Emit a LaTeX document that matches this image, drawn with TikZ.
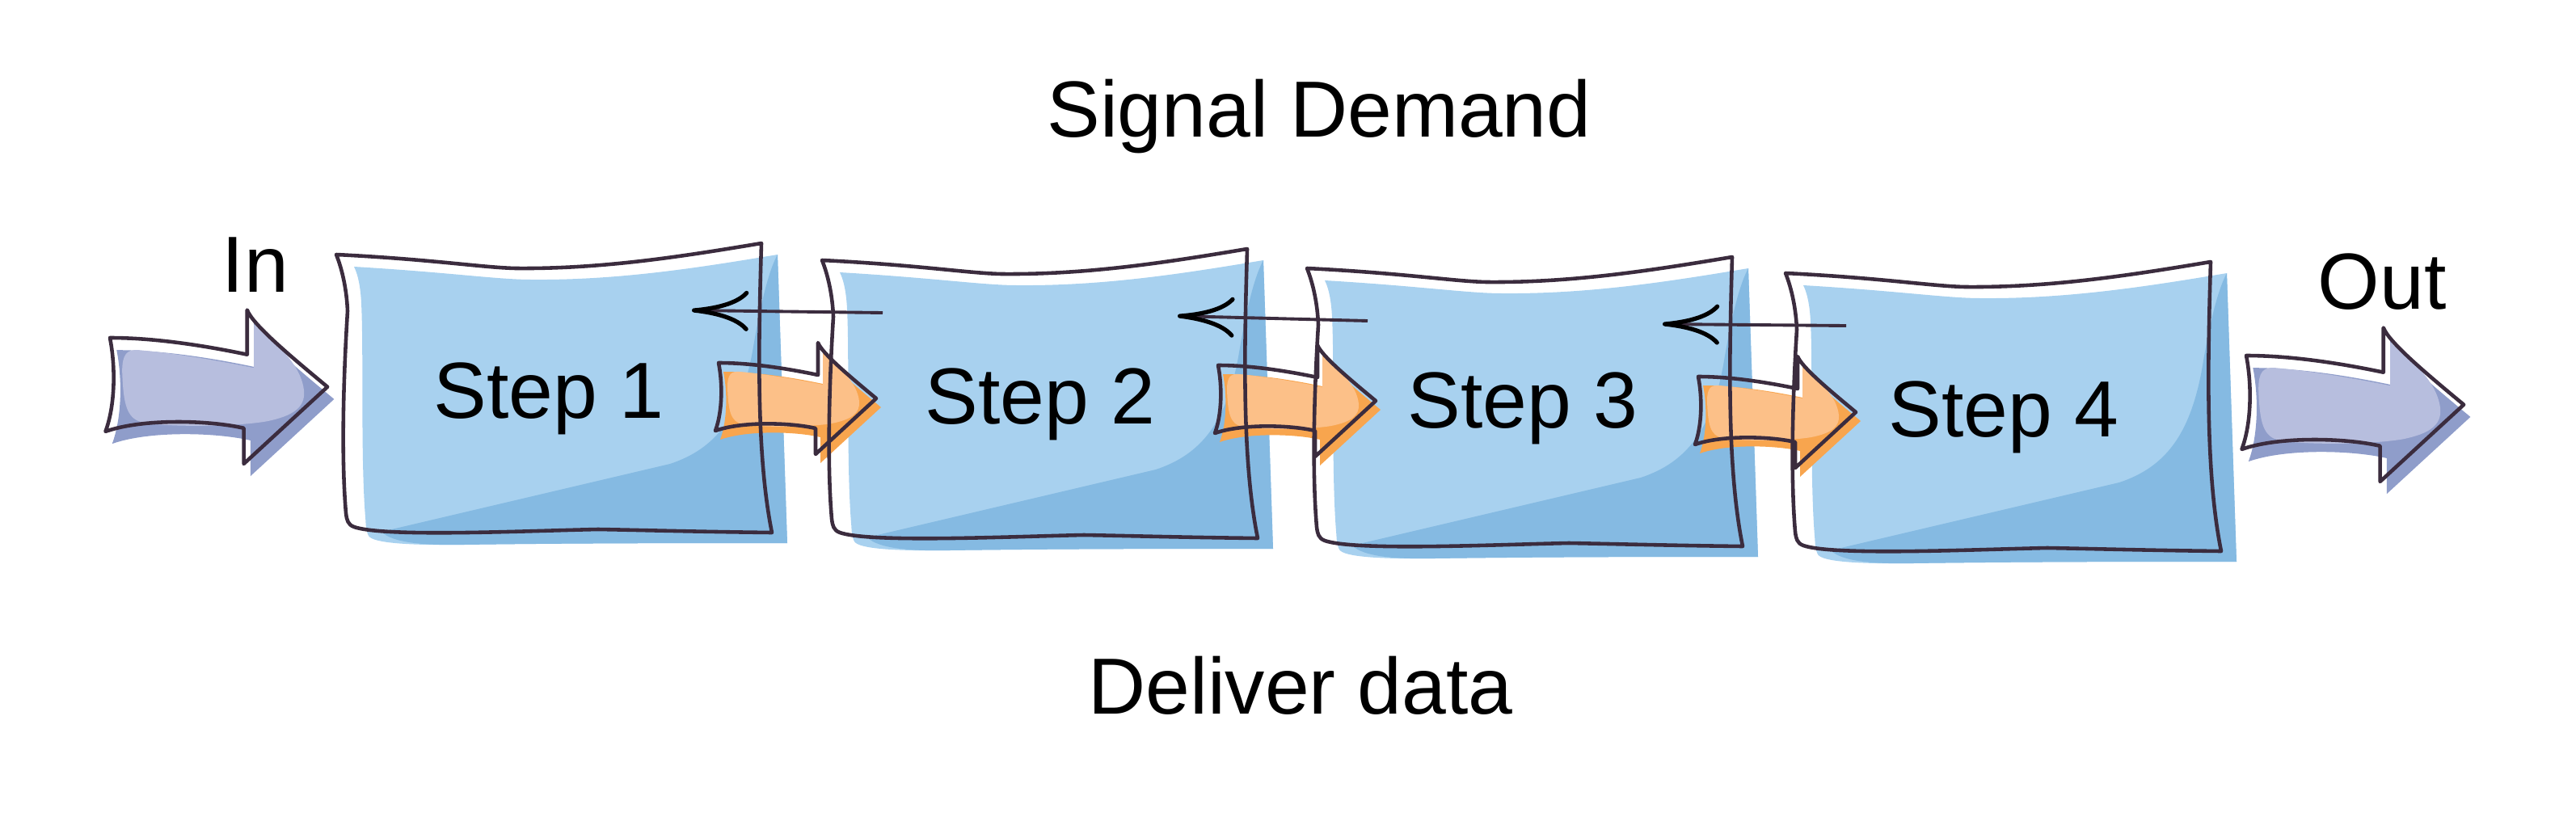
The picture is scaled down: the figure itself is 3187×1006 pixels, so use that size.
\documentclass[tikz,border=0pt]{standalone}
\usepackage{fontspec}
\setmainfont{Liberation Sans}
\usetikzlibrary{arrows.meta}

\definecolor{bluelight}{HTML}{A8D1EF}
\definecolor{bluedark}{HTML}{85BAE2}
\definecolor{orangelight}{HTML}{FCC088}
\definecolor{orangedark}{HTML}{F8A54E}
\definecolor{purplelight}{HTML}{B7BEDE}
\definecolor{purpledark}{HTML}{8F9DCA}
\definecolor{edgecol}{HTML}{3B2C3E}

\begin{document}
\begin{tikzpicture}[
        x = 0.01cm, y = -0.01cm,
        line join=round,
        boxedge/.style = {line width=1.3pt, edgecol},
        sigline/.style = {line width=1.1pt, edgecol, -{Computer Modern Rightarrow[length=7mm, width=5mm, line width=1.5pt, color=black]}},
        txt/.style = {anchor=base, inner sep=0pt, font=\fontsize{28}{34}\selectfont},
        boxfill/.pic = {
            \fill[bluelight] (22,15) .. controls (140,22) and (200,31) .. (241,31) .. controls (350,32) and (450,16) .. (546,0) -- (558,357) .. controls (450,357) and (300,357) .. (158,359) .. controls (90,360) and (45,357) .. (40,348) .. controls (36,340) and (37,335) .. (36,325) .. controls (30,250) and (34,120) .. (31,60) .. controls (30,40) and (27,25) .. (22,15) -- cycle;
            \fill[bluedark] (546,0) -- (558,357) .. controls (450,357) and (300,357) .. (158,359) .. controls (110,360) and (70,357) .. (56,343) -- (413,259) .. controls (470,240) and (500,200) .. (515,120) .. controls (525,60) and (535,20) .. (546,0) -- cycle;
        },
        boxline/.pic = {
            \draw[boxedge] (0,0) .. controls (120,6) and (180,16) .. (222,17) .. controls (330,18) and (430,2) .. (526,-14) .. controls (522,120) and (520,250) .. (539,344) .. controls (450,343) and (380,341) .. (324,340) .. controls (230,342) and (60,350) .. (22,337) .. controls (14,334) and (13,328) .. (12,320) .. controls (6,250) and (9,150) .. (14,70) .. controls (13,45) and (8,20) .. (0,0) -- cycle;
            \coordinate (-w) at (75,65);
            \coordinate (-e) at (440,69);
        },
        flowarrow/.pic = {
            \fill[#1dark, shift={(6,11)}] (0,0) .. controls (40,0) and (85,7) .. (123,15) -- (123,-25) .. controls (128,-12) and (160,15) .. (195,44) -- (120,113) -- (120,81) .. controls (90,74) and (30,72) .. (-4,84) .. controls (5,60) and (5,25) .. (0,0) -- cycle;
            \fill[#1light] (11,30) .. controls (11,15) and (15,10) .. (26,11) .. controls (60,14) and (100,21) .. (129,27) -- (129,-12) .. controls (150,5) and (172,25) .. (174,48) .. controls (175,62) and (165,70) .. (140,75) .. controls (110,80) and (50,80) .. (30,76) .. controls (15,73) and (12,60) .. (11,30) -- cycle;
            \draw[boxedge] (0,0) .. controls (40,0) and (85,7) .. (123,15) -- (123,-25) .. controls (128,-12) and (160,15) .. (195,44) -- (120,113) -- (120,81) .. controls (90,74) and (30,72) .. (-4,84) .. controls (5,60) and (5,25) .. (0,0) -- cycle;
        }
    ]
        \useasboundingbox (0,0) rectangle (3187,1006);

        % step fills
        \pic at (416,315) {boxfill};
        \pic at (1017,322) {boxfill};
        \pic at (1617,332) {boxfill};
        \pic at (2209,338) {boxfill};

        % flow arrows
        \pic[scale=1.38] at (136,418) {flowarrow=purple};
        \pic at (889,449) {flowarrow=orange};
        \pic at (1507,452) {flowarrow=orange};
        \pic at (2101,466) {flowarrow=orange};
        \pic[scale=1.38] at (2779,440) {flowarrow=purple};

        % step outlines
        \pic (b1) at (416,315) {boxline};
        \pic (b2) at (1017,322) {boxline};
        \pic (b3) at (1617,332) {boxline};
        \pic (b4) at (2209,338) {boxline};

        \draw[sigline] (b2-w) -- (b1-e);
        \draw[sigline] (b3-w) -- (b2-e);
        \draw[sigline] (b4-w) -- (b3-e);

        \node[txt] (demand) at (1632,169) {Signal Demand};
        \node[txt] (deliver) at (1609,883) {Deliver data};
        \node[txt] (in) at (316,361) {In};
        \node[txt] (out) at (2947,382) {Out};
        \node[txt] (s1) at (679,517) {Step 1};
        \node[txt] (s2) at (1287,524) {Step 2};
        \node[txt] (s3) at (1884,529) {Step 3};
        \node[txt] (s4) at (2479,540) {Step 4};

    \end{tikzpicture}
\end{document}
